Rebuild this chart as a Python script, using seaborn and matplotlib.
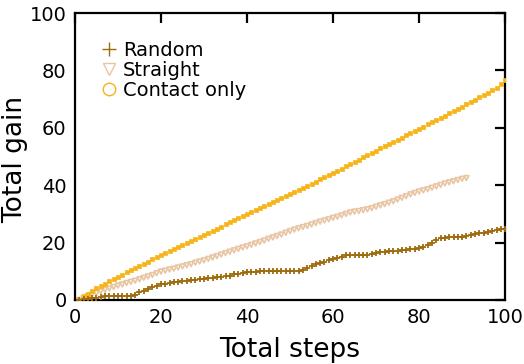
import numpy as np
import pandas as pd
import seaborn as sns
import matplotlib
matplotlib.use('Agg')
from matplotlib import pyplot as plt
from matplotlib.lines import Line2D

# 数据
steps_random = list(range(1, 101))
gain_random = [0.0, 0.3, 0.5, 0.7, 0.8, 1.0, 1.2, 1.4, 1.4, 1.5,
               1.5, 1.5, 1.5, 1.6, 2.6, 3.2, 3.8, 4.4, 5.0, 5.5,
               5.7, 6.0, 6.1, 6.3, 6.5, 6.6, 6.8, 7.0, 7.2, 7.4,
               7.5, 7.7, 7.9, 8.1, 8.3, 8.5, 8.9, 9.2, 9.5, 9.8,
               9.9, 9.9, 10.0, 10.0, 10.0, 10.1, 10.1, 10.1, 10.1, 10.2,
               10.2, 10.2, 10.3, 11.0, 11.8, 12.4, 13.0, 13.4, 13.8, 14.2,
               14.6, 15.0, 15.5, 15.6, 15.6, 15.7, 15.7, 15.8, 16.1, 16.4,
               16.6, 16.8, 16.9, 17.1, 17.2, 17.4, 17.5, 17.6, 17.8, 18.0,
               18.4, 19.0, 20.0, 21.0, 21.6, 21.7, 21.8, 21.9, 22.0, 22.1,
               22.3, 22.6, 22.9, 23.2, 23.5, 23.8, 24.0, 24.3, 24.6, 24.8]

steps_straight = list(range(1, 92))
gain_straight = [0.0, 0.7, 1.3, 1.9, 2.4, 3.0, 3.5, 4.0, 4.5, 5.0,
                 5.4, 5.9, 6.3, 6.7, 7.2, 7.7, 8.2, 8.7, 9.3, 9.9,
                 10.2, 10.6, 10.9, 11.3, 11.7, 12.1, 12.5, 13.0, 13.4, 13.8,
                 14.3, 14.8, 15.3, 15.8, 16.3, 16.8, 17.3, 17.8, 18.3, 18.7,
                 19.2, 19.7, 20.2, 20.7, 21.3, 21.8, 22.3, 22.8, 23.4, 24.0,
                 24.5, 25.0, 25.4, 25.8, 26.3, 26.8, 27.3, 27.7, 28.1, 28.6,
                 29.0, 29.5, 30.0, 30.5, 30.8, 31.0, 31.3, 31.6, 32.0, 32.5,
                 33.0, 33.4, 33.9, 34.4, 35.0, 35.6, 36.2, 36.8, 37.3, 37.8,
                 38.2, 38.6, 39.1, 39.6, 40.1, 40.6, 41.0, 41.4, 41.8, 42.2,
                 42.5]

steps_contact = list(range(1, 101))
gain_contact = [0.0, 1.2, 2.2, 3.2, 4.2, 4.9, 5.7, 6.5, 7.3, 8.0,
                8.8, 9.6, 10.3, 11.1, 11.9, 12.6, 13.4, 14.1, 14.9, 15.7,
                16.4, 17.1, 17.8, 18.5, 19.2, 19.9, 20.6, 21.3, 22.0, 22.7,
                23.4, 24.1, 24.8, 25.6, 26.3, 27.0, 27.7, 28.4, 29.1, 29.8,
                30.5, 31.2, 31.9, 32.6, 33.3, 34.0, 34.7, 35.4, 36.1, 36.9,
                37.6, 38.3, 39.0, 39.8, 40.5, 41.2, 42.0, 42.8, 43.6, 44.3,
                45.0, 45.8, 46.6, 47.4, 48.2, 48.9, 49.7, 50.5, 51.2, 52.0,
                52.8, 53.5, 54.3, 55.0, 55.8, 56.6, 57.4, 58.1, 58.9, 59.7,
                60.4, 61.2, 62.0, 62.7, 63.5, 64.3, 65.1, 65.8, 66.6, 67.4,
                68.2, 69.0, 69.8, 70.6, 71.4, 72.3, 73.1, 74.0, 75.2, 76.6]

labels = ['Random', 'Straight', 'Contact only']
colors = ['#9E6B0C', '#E8C6A4', '#F7B418']

sns.set_style('white')
plt.rcParams['font.family'] = ['DejaVu Sans']
plt.rcParams['text.color'] = 'black'
plt.rcParams['axes.labelcolor'] = 'black'
plt.rcParams['xtick.color'] = 'black'
plt.rcParams['ytick.color'] = 'black'

fig = plt.figure(figsize=(5.24, 3.64), dpi=100)
ax = fig.add_axes([0.143, 0.176, 0.821, 0.788])

sns.scatterplot(x=steps_contact, y=gain_contact, ax=ax, marker='s', s=8,
                color=colors[2], edgecolor=colors[2], linewidth=0.5, zorder=3)
sns.scatterplot(x=steps_straight, y=gain_straight, ax=ax, marker='v', s=12,
                facecolor='none', edgecolor=colors[1], linewidth=1.2, zorder=2)
sns.scatterplot(x=steps_random, y=gain_random, ax=ax, marker='+', s=22,
                color=colors[0], linewidth=1.3, zorder=4)

ax.set_xlim(0, 100)
ax.set_ylim(0, 100)
ax.set_xticks(range(0, 101, 20))
ax.set_yticks(range(0, 101, 20))
ax.tick_params(direction='in', length=7, width=1.6, labelsize=14,
               top=True, right=True, pad=6)
for sp in ax.spines.values():
    sp.set_linewidth(1.6)
    sp.set_color('black')
ax.set_xlabel('Total steps', fontsize=19)
ax.set_ylabel('Total gain', fontsize=19)
ax.xaxis.set_label_coords(0.5, -0.13)
ax.yaxis.set_label_coords(-0.108, 0.49)

handles = [
    Line2D([], [], ls='', marker='+', ms=10, mew=1.0, color=colors[0]),
    Line2D([], [], ls='', marker='v', ms=9, mew=1.0, mfc='none', color=colors[1]),
    Line2D([], [], ls='', marker='o', ms=9, mew=1.0, mfc='none', color=colors[2]),
]
ax.legend(handles, labels, loc='upper left', bbox_to_anchor=(0.035, 0.93),
          frameon=False, fontsize=14, handletextpad=0.1, labelspacing=0.05,
          handlelength=1.2, borderaxespad=0)

plt.savefig('out.png', dpi=100)
